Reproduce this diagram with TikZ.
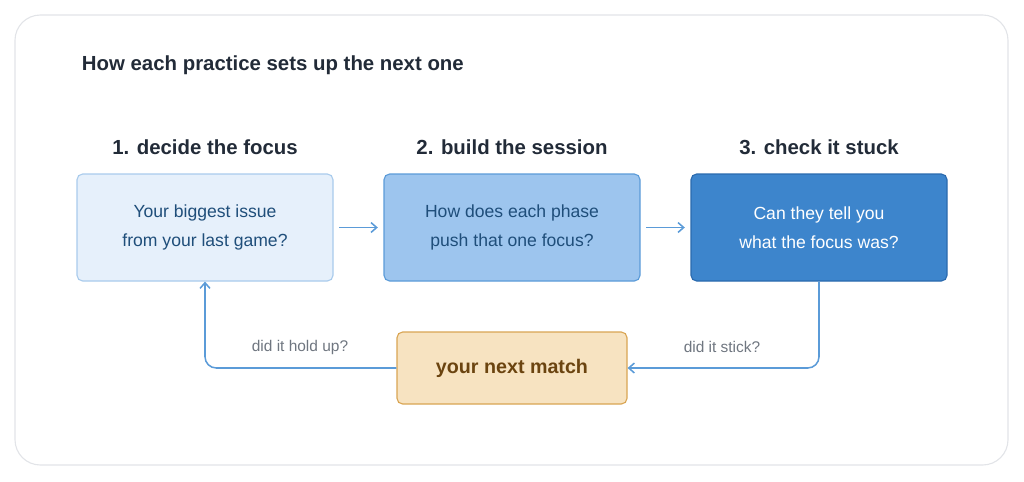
\documentclass[tikz,border=0pt]{standalone}
\usepackage{fontspec}
\setmainfont{Liberation Sans}
\usetikzlibrary{arrows.meta,positioning}
\definecolor{frameline}{HTML}{E2E4E8}
\definecolor{titletext}{HTML}{222B38}
\definecolor{paleblue}{HTML}{E6F0FB}
\definecolor{palebord}{HTML}{A9CBEC}
\definecolor{midblue}{HTML}{9DC5EE}
\definecolor{midbord}{HTML}{5B9BD8}
\definecolor{deepblue}{HTML}{3D85CC}
\definecolor{deepbord}{HTML}{2A6AAE}
\definecolor{boxtext}{HTML}{1F4E7A}
\definecolor{arrowblue}{HTML}{5B9BD8}
\definecolor{sand}{HTML}{F7E3C1}
\definecolor{sandbord}{HTML}{D9A553}
\definecolor{brown}{HTML}{6B4410}
\definecolor{note}{HTML}{6F7680}
\tikzset{
	stage/.style = {rounded corners = 4pt, minimum width = 256*0.025cm, minimum height = 107*0.025cm, align = center, font = \fontsize{12.5}{21}\selectfont, draw, line width = 0.8pt},
	head/.style = {font = \fontsize{14.5}{17}\selectfont\bfseries, text = titletext},
	flow/.style = {arrowblue, line width = 1.1pt, -{Straight Barb[length = 4pt, width = 7pt]}},
	note/.style = {font = \fontsize{11}{13}\selectfont, text = note}
}
\begin{document}
\begin{tikzpicture}[x = 0.025cm, y = -0.025cm]
	\useasboundingbox (0, 0) rectangle (1024, 481);
	\draw[frameline, line width = 0.8pt, rounded corners = 18pt] (15, 15) rectangle (1008, 465);
	\node[anchor = west, head] (title) at (77, 65) {How each practice sets up the next one};
	
	\node[stage, fill = paleblue, draw = palebord, text = boxtext] (focus) at (205, 227.5) {Your biggest issue\\from your last game?};
	\node[stage, fill = midblue, draw = midbord, text = boxtext] (session) at (512, 227.5) {How does each phase\\push that one focus?};
	\node[stage, fill = deepblue, draw = deepbord, text = white] (check) at (819, 227.5) {Can they tell you\\what the focus was?};
	
	\node[head] (h1) at (205, 147) {1. decide the focus};
	\node[head] (h2) at (512, 147) {2. build the session};
	\node[head] (h3) at (819, 147) {3. check it stuck};
	
	\node[rounded corners = 4pt, minimum width = 230*0.025cm, minimum height = 72*0.025cm, fill = sand, draw = sandbord, line width = 0.8pt, text = brown, font = \fontsize{14}{17}\selectfont\bfseries] (match) at (512, 368) {your next match};
	
	\draw[flow, shorten <= 4pt, shorten >= 4pt] (focus) -- (session);
	\draw[flow, shorten <= 4pt, shorten >= 4pt] (session) -- (check);
	\draw[flow, rounded corners = 8pt] (check.south) |- (match.east);
	\draw[flow, rounded corners = 8pt] (match.west) -| (focus.south);
	
	\node[note] (stick) at (722, 347) {did it stick?};
	\node[note] (hold) at (300, 347) {did it hold up?};
\end{tikzpicture}
\end{document}
